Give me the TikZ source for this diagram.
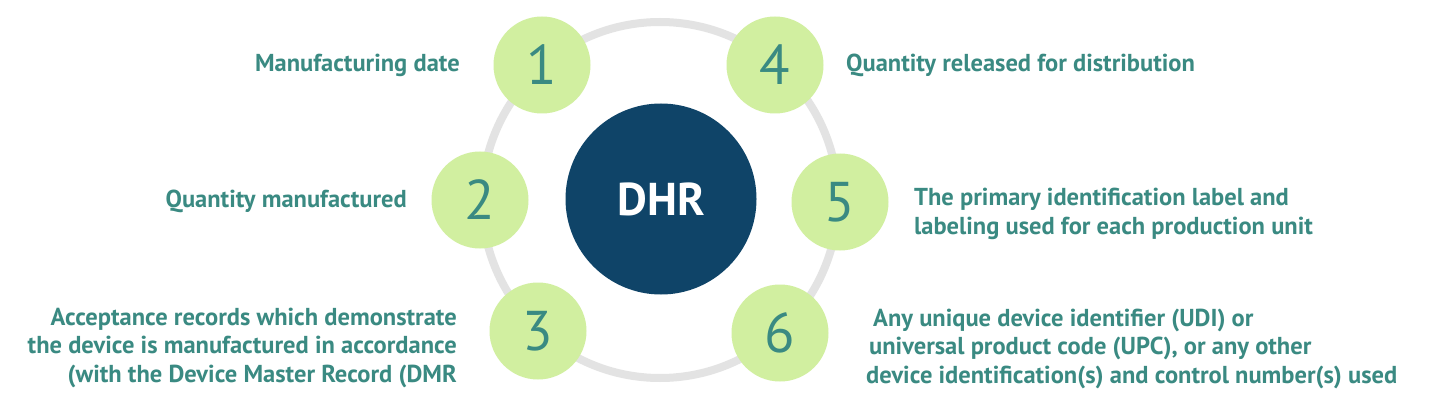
\documentclass[tikz,border=0pt]{standalone}
\usepackage{fontspec}
\setmainfont{PT Sans}
\definecolor{teal}{HTML}{3A8A82}
\definecolor{lgreen}{HTML}{D1EFA0}
\definecolor{navy}{HTML}{0F4468}
\definecolor{ringgray}{HTML}{E3E3E3}
\begin{document}
\begin{tikzpicture}[x=1pt,y=-1pt,
  numcirc/.style={circle,fill=lgreen,minimum size=97pt,inner sep=0pt,text=teal,font=\fontsize{56}{56}\selectfont},
  lbl/.style={text=teal,font=\bfseries\fontsize{24.5}{28.5}\selectfont,inner sep=0pt}]
\useasboundingbox (0,0) rectangle (1438,417);
\fill[white] (0,0) rectangle (1438,417);
\coordinate (c) at (660,200);
\draw[ringgray,line width=8pt] (c) circle[radius=178];
\node[circle,fill=navy,minimum size=191pt,inner sep=0pt,text=white,font=\bfseries\fontsize{46}{46}\selectfont] (dhr) at (661,199) {DHR};
\node[numcirc] (n1) at (542,65) {1};
\node[numcirc] (n2) at (480,200) {2};
\node[numcirc] (n3) at (538,331) {3};
\node[numcirc] (n4) at (775,65) {4};
\node[numcirc] (n5) at (840,202) {5};
\node[numcirc] (n6) at (780,333) {6};
\node[lbl,anchor=base east] (t1) at (460,72) {Manufacturing date};
\node[lbl,anchor=base east] (t2) at (407,207) {Quantity manufactured};
\node[lbl,anchor=base west] (t4) at (846,72) {Quantity released for distribution};
\node[lbl,anchor=base west,align=left] (t5) at (914,234) {The primary identification label and\\labeling used for each production unit};
\node[lbl,anchor=base east,align=right] (t3) at (457,382) {Acceptance records which demonstrate\\the device is manufactured in accordance\\(with the Device Master Record (DMR};
\node[lbl,anchor=base west,align=left] (t6) at (866,383) {\hspace*{7pt}Any unique device identifier (UDI) or\\\hspace*{3pt}universal product code (UPC), or any other\\device identification(s) and control number(s) used};
\end{tikzpicture}
\end{document}
